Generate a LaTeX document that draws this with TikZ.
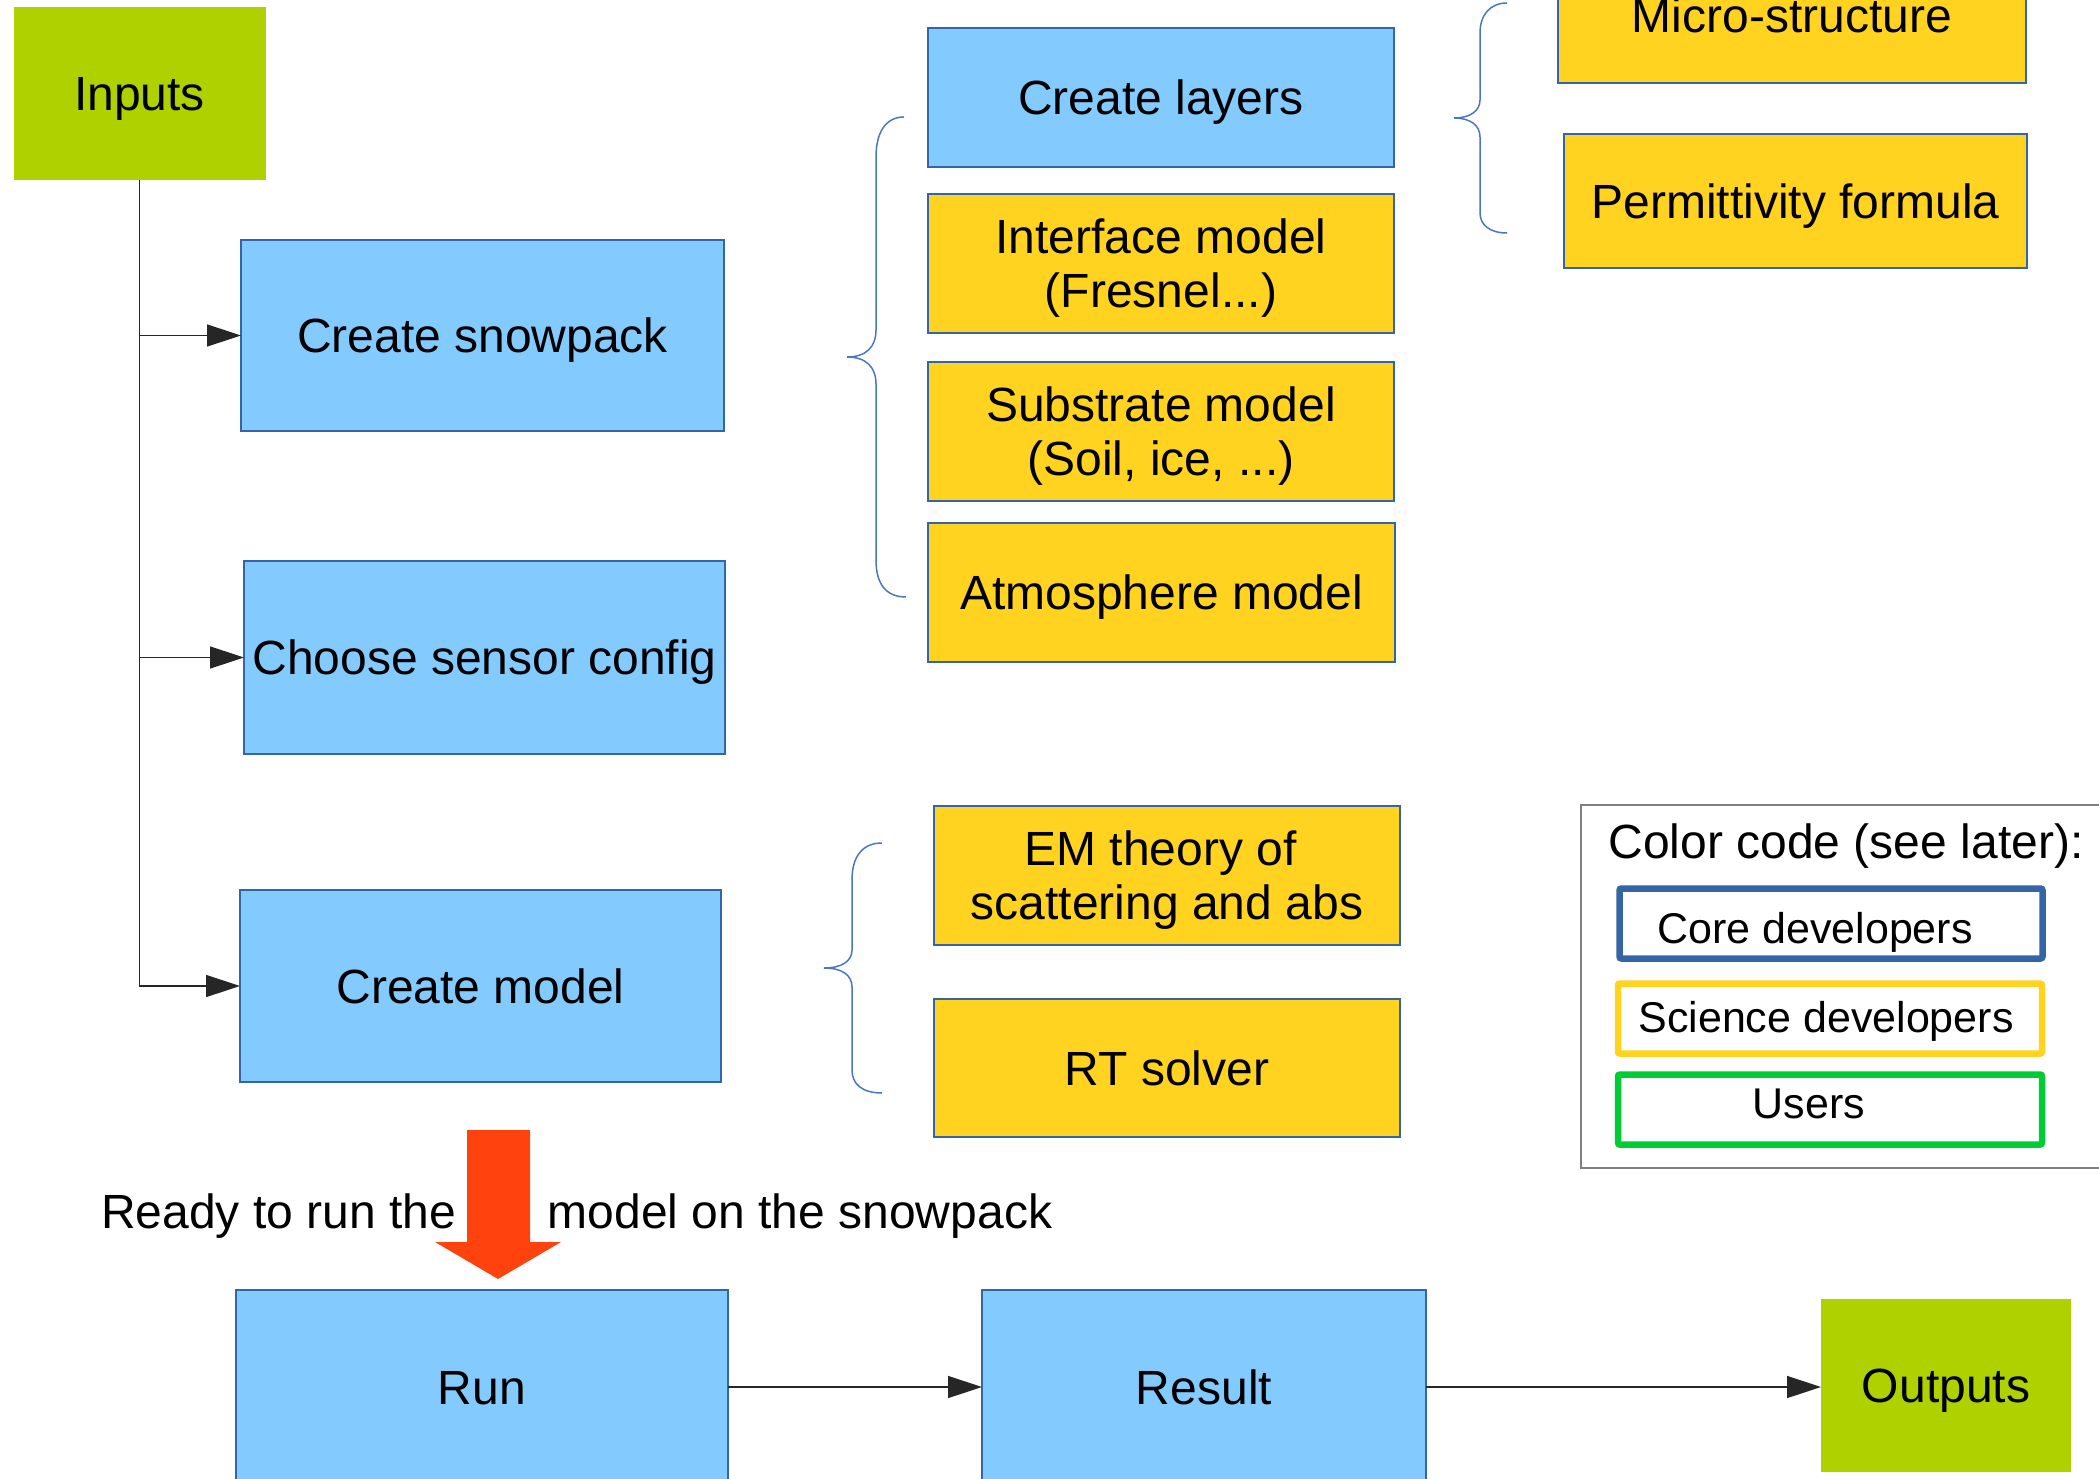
\documentclass[tikz,border=0pt]{standalone}
\usepackage{fontspec}
\setmainfont{Liberation Sans}
\usetikzlibrary{arrows.meta}
\definecolor{leaf}{HTML}{B0D100}
\definecolor{sky}{HTML}{83CAFF}
\definecolor{gold}{HTML}{FFD320}
\definecolor{edge}{HTML}{3465A4}
\definecolor{bracecol}{HTML}{4A78C0}
\definecolor{flame}{HTML}{FF420E}
\definecolor{usergreen}{HTML}{00CC33}
\definecolor{framecol}{HTML}{7F7F7F}
\begin{document}
\begin{tikzpicture}[x=1pt,y=-1pt,
  every node/.style={inner sep=0pt, outer sep=0pt},
  bigfont/.style={font=\fontsize{48}{53.6}\selectfont},
  block/.style={bigfont, align=center, text height=34.5pt, text depth=0pt},
  twoline/.style={text height=88.1pt},
  io/.style={block, fill=leaf},
  task/.style={block, fill=sky, draw=edge, line width=1.5pt},
  part/.style={block, fill=gold, draw=edge, line width=1.5pt},
  conn/.style={draw=black!85, line width=1.5pt, -{Triangle[length=34pt,width=22pt]}},
  bracket/.style={draw=bracecol, line width=1.5pt},
  role/.style={line width=6.5pt, rounded corners=2pt},
  legendtext/.style={font=\fontsize{43}{48}\selectfont, anchor=base},
]
\useasboundingbox (0,0) rectangle (2099,1479);
\clip (0,0) rectangle (2099,1479);

% main flow boxes
\node[io, minimum width=252pt, minimum height=173pt] (inputs) at (139.5,93.5) {Inputs};
\node[task, minimum width=483pt, minimum height=191pt] (snow) at (482.5,335.5) {Create snowpack};
\node[task, minimum width=481pt, minimum height=193pt] (sensor) at (484.5,657.5) {Choose sensor config};
\node[task, minimum width=481pt, minimum height=192pt] (model) at (480.5,986) {Create model};

% snowpack components
\node[task, minimum width=466pt, minimum height=139pt] (layers) at (1161,97.5) {Create layers};
\node[part, twoline, minimum width=466pt, minimum height=139pt] (interface) at (1161,263.5) {Interface model\\(Fresnel...)};
\node[part, twoline, minimum width=466pt, minimum height=139pt] (substrate) at (1161,431.5) {Substrate model\\(Soil, ice, ...)};
\node[part, minimum width=467pt, minimum height=139pt] (atmos) at (1161.5,592.5) {Atmosphere model};

% layer components
\node[part, minimum width=468pt, minimum height=135pt] (micro) at (1792,15.5) {Micro-structure};
\node[part, minimum width=463pt, minimum height=134pt] (permit) at (1795.5,201) {Permittivity formula};

% model components
\node[part, twoline, minimum width=466pt, minimum height=139pt] (emtheory) at (1167,875.5) {EM theory of\kern13pt\\scattering and abs};
\node[part, minimum width=466pt, minimum height=138pt] (rtsolver) at (1167,1068) {RT solver};

% run chain
\node[task, minimum width=492pt, minimum height=194pt] (run) at (482,1387) {Run};
\node[task, minimum width=444pt, minimum height=194pt] (result) at (1204,1387) {Result};
\node[io, minimum width=250pt, minimum height=173pt] (outputs) at (1946,1385.5) {Outputs};

% connectors
\draw[conn] (inputs.south) |- (model.west);
\draw[conn] (inputs.south |- snow.west) -- (snow.west);
\draw[conn] (inputs.south |- sensor.west) -- (sensor.west);
\draw[conn] (run.east) -- (run.east -| result.west);
\draw[conn] (result.east) -- (result.east -| outputs.west);

% curly brackets
\draw[bracket] (904,117) .. controls (886,117) and (876,132) .. (876,157) -- (876,330)
  .. controls (876,347) and (866,357) .. (847,357)
  .. controls (866,357) and (876,367) .. (876,384) -- (876,560)
  .. controls (876,584) and (886,597) .. (906,597);
\draw[bracket] (882,843) .. controls (862,843) and (852,857) .. (852,880) -- (852,950)
  .. controls (852,961) and (842,968) .. (824,968)
  .. controls (842,968) and (852,975) .. (852,987) -- (852,1070)
  .. controls (852,1084) and (862,1093) .. (882,1093);
\draw[bracket] (1507,3) .. controls (1490,3) and (1480,15) .. (1480,33) -- (1480,100)
  .. controls (1480,111) and (1470,118) .. (1454,118)
  .. controls (1470,118) and (1480,125) .. (1480,137) -- (1480,213)
  .. controls (1480,225) and (1490,233) .. (1507,233);

% caption and big arrow into Run
\node[bigfont, anchor=base west] (ready) at (101,1228) {Ready to run the\hspace{92pt}model on the snowpack};
\fill[flame] (467,1130) -- (530,1130) -- (530,1242) -- (561,1242) -- (498,1279) -- (435,1242) -- (467,1242) -- cycle;

% colour legend
\draw[draw=framecol, line width=1.5pt] (1581,805) rectangle (2120,1168);
\node[bigfont, anchor=base] (legendtitle) at (1846,858) {Color code (see later):};
\draw[role, draw=edge] (1619.5,888.5) rectangle (2042.5,958.5);
\draw[role, draw=gold] (1618,983.5) rectangle (2042,1053.5);
\draw[role, draw=usergreen] (1618,1074.5) rectangle (2042,1144.5);
\node[legendtext] (core) at (1815,943) {Core developers};
\node[legendtext] (science) at (1826,1032) {Science developers};
\node[legendtext] (users) at (1809,1118) {Users};
\end{tikzpicture}
\end{document}
